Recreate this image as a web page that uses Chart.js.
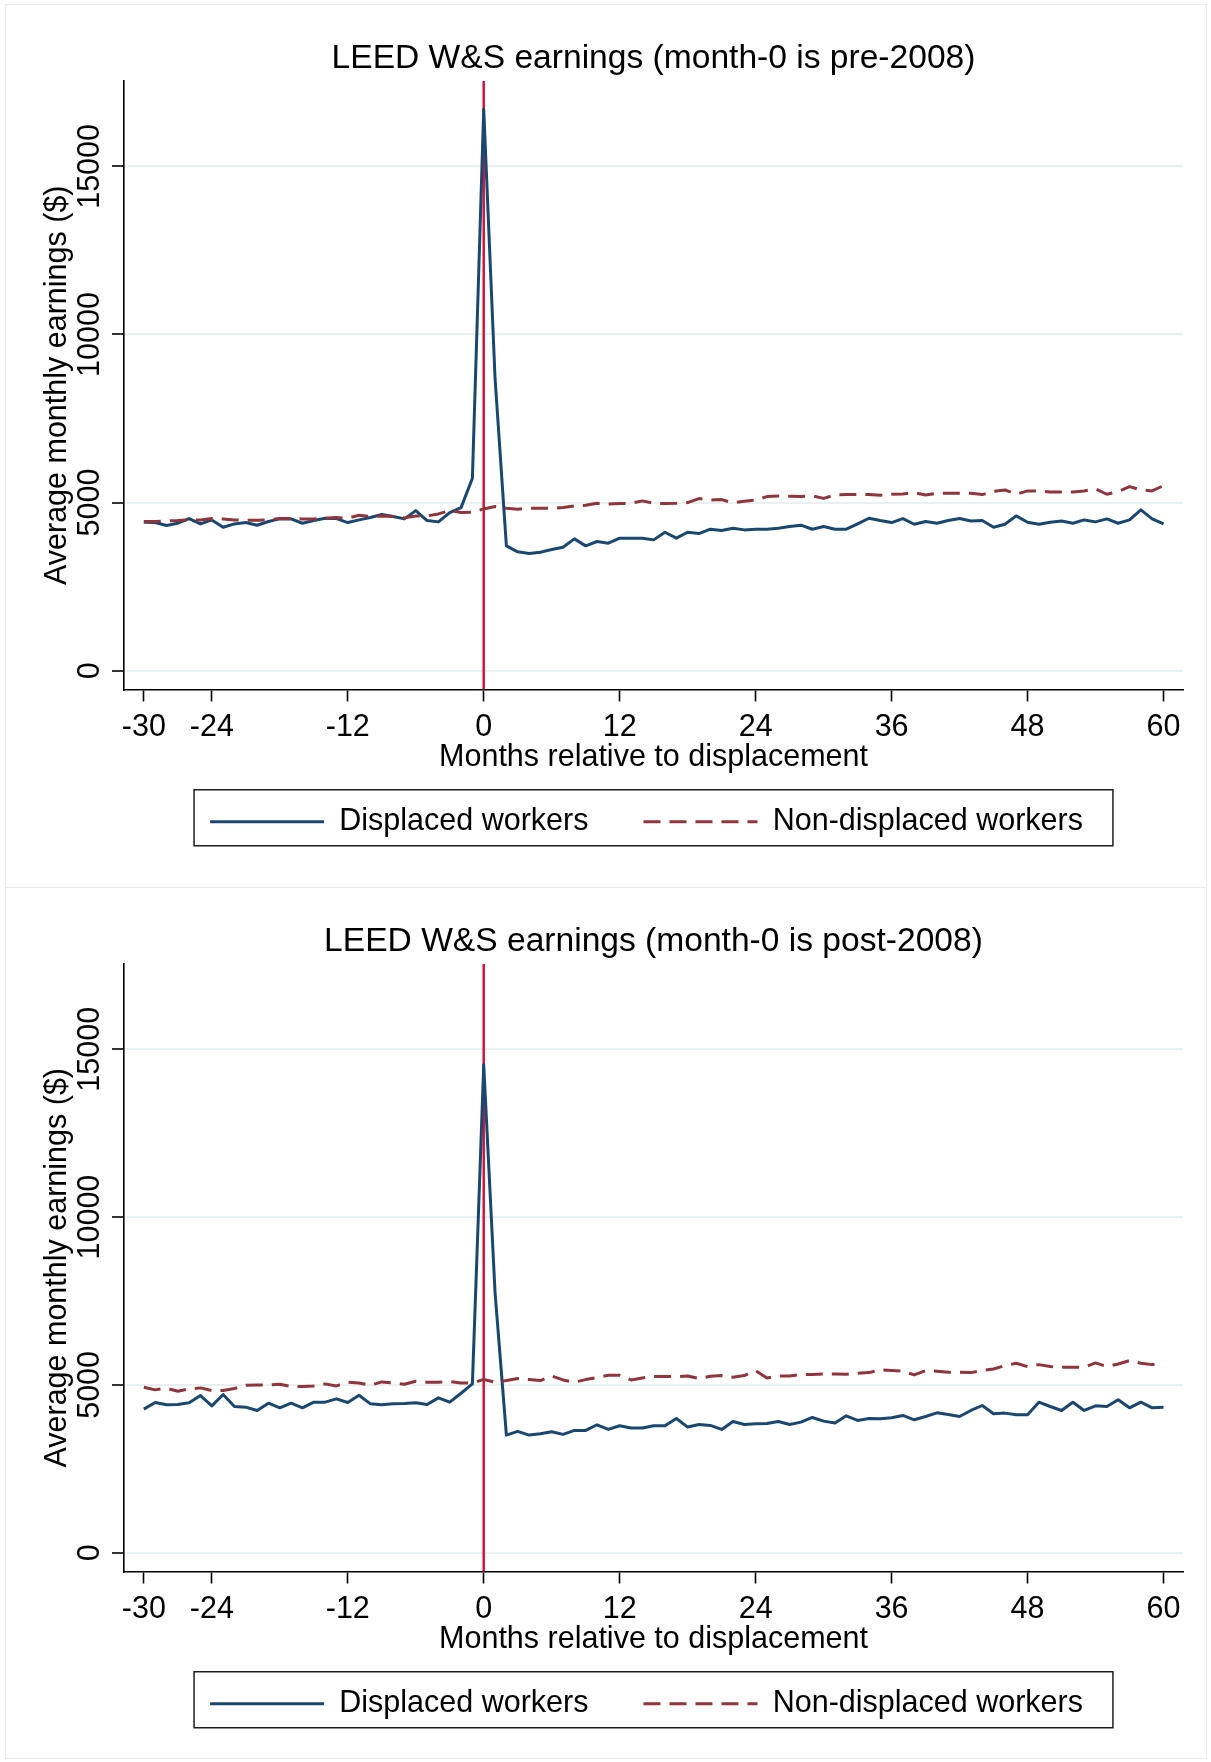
<!DOCTYPE html>
<html>
<head>
<meta charset="utf-8">
<script src="https://cdn.jsdelivr.net/npm/chart.js@4.4.1/dist/chart.umd.min.js"></script>
<style>
  html, body { margin: 0; padding: 0; background: #fff; }
  body { width: 1211px; height: 1762px; position: relative; overflow: hidden; }
  .panel { position: absolute; left: 0; width: 1211px; }
  .frame { position: absolute; border: 1px solid #e6ecee; pointer-events: none; }
  canvas { display: block; }
</style>
</head>
<body>
<div class="panel" style="top:0px;height:883px"><canvas id="c1" width="1211" height="883"></canvas></div>
<div class="panel" style="top:883px;height:879px"><canvas id="c2" width="1211" height="879"></canvas></div>
<div class="frame" style="left:5px;top:4px;width:1200px;height:882px"></div>
<div class="frame" style="left:5px;top:887px;width:1200px;height:870px"></div>
<script>
// ---- data ----
const months = [-30,-29,-28,-27,-26,-25,-24,-23,-22,-21,-20,-19,-18,-17,-16,-15,-14,-13,-12,-11,-10,-9,-8,-7,-6,-5,-4,-3,-2,-1,
  0,1,2,3,4,5,6,7,8,9,10,11,12,13,14,15,16,17,18,19,20,21,22,23,24,25,26,27,28,29,
  30,31,32,33,34,35,36,37,38,39,40,41,42,43,44,45,46,47,48,49,50,51,52,53,54,55,56,57,58,59,60];

const preDisplaced = [4416,4406,4317,4386,4525,4366,4485,4267,4366,4406,4327,4436,4515,4515,4386,4465,4535,4525,4406,4485,4555,4644,4584,4515,4762,4465,4426,4703,4851,5723,
  16700,8700,3713,3535,3485,3525,3604,3673,3921,3713,3842,3792,3941,3941,3941,3891,4119,3941,4119,4079,4208,4168,4238,4188,4208,4208,4238,4287,4327,4208,
  4287,4208,4208,4366,4535,4465,4406,4525,4356,4436,4386,4465,4525,4455,4465,4267,4356,4604,4416,4356,4416,4455,4386,4485,4426,4515,4386,4485,4782,4515,4366];

const preNonDisplaced = [4436,4440,4455,4465,4485,4485,4525,4515,4485,4475,4475,4485,4525,4525,4515,4515,4535,4555,4535,4624,4584,4604,4584,4545,4604,4604,4663,4762,4703,4713,
  4812,4881,4832,4802,4832,4832,4832,4851,4901,4921,4980,4960,4970,4980,5050,4980,4970,4980,5000,5119,5079,5089,4990,5040,5079,5178,5198,5188,5178,5198,
  5125,5230,5238,5238,5238,5218,5248,5257,5297,5228,5277,5277,5277,5277,5238,5337,5376,5248,5347,5347,5317,5317,5317,5347,5406,5248,5327,5475,5376,5347,5505];

const postDisplaced = [4277,4475,4406,4416,4465,4683,4376,4713,4356,4337,4238,4455,4317,4455,4317,4485,4485,4584,4475,4693,4436,4406,4436,4446,4465,4416,4614,4485,4752,5030,
  14540,7750,3505,3614,3505,3545,3604,3525,3644,3644,3812,3673,3782,3713,3713,3782,3782,4000,3743,3822,3792,3673,3911,3822,3842,3852,3911,3822,3891,4030,
  3921,3862,4079,3941,4000,3990,4020,4089,3960,4059,4168,4119,4059,4238,4386,4139,4159,4109,4109,4485,4356,4238,4485,4238,4376,4356,4555,4317,4485,4317,4337];

const postNonDisplaced = [4931,4852,4901,4812,4881,4911,4832,4832,4891,4990,5000,5000,5020,4950,4950,4970,5030,4970,5079,5059,4990,5089,5059,5020,5109,5079,5079,5099,5059,5050,
  5163,5079,5129,5188,5158,5129,5267,5148,5079,5158,5218,5287,5287,5148,5208,5247,5247,5247,5267,5188,5257,5277,5228,5277,5426,5208,5267,5267,5307,5307,
  5327,5327,5317,5347,5366,5446,5426,5406,5297,5426,5406,5376,5376,5366,5426,5475,5574,5644,5545,5604,5545,5525,5525,5525,5654,5545,5624,5723,5644,5604,5604];

const xTickValues = [-30, -24, -12, 0, 12, 24, 36, 48, 60];
const yTickValues = [0, 5000, 10000, 15000];
const seriesNames = ['Displaced workers', 'Non-displaced workers'];
const panelTitles = ['LEED W&S earnings (month-0 is pre-2008)', 'LEED W&S earnings (month-0 is post-2008)'];
const eventMonth = 0;

// ---- style ----
const FONT = '"Liberation Sans", Arial, Helvetica, sans-serif';
const NAVY = '#1a476f';
const MAROON = '#90353b';
const VLINE = '#d0143c';
Chart.defaults.font.family = FONT;
Chart.defaults.color = '#000';

const vlinePlugin = {
  id: 'vline',
  beforeDatasetsDraw(chart) {
    const {ctx, chartArea, scales} = chart;
    const x = scales.x.getPixelForValue(eventMonth);
    ctx.save();
    ctx.strokeStyle = VLINE;
    ctx.lineWidth = 2.5;
    ctx.beginPath();
    ctx.moveTo(x, chartArea.top);
    ctx.lineTo(x, chartArea.bottom);
    ctx.stroke();
    ctx.restore();
  }
};

const legendFramePlugin = {
  id: 'legendFrame',
  afterLayout(chart) {
    // Stata centres the legend box (not its contents) on the plot region
    const lg = chart.legend;
    if (lg) { lg.left -= 7; lg.right -= 7; }
  },
  afterDraw(chart) {
    const lg = chart.legend;
    if (!lg || !lg.legendHitBoxes || !lg.legendHitBoxes.length) return;
    const hb = lg.legendHitBoxes;
    const first = hb[0], last = hb[hb.length - 1];
    const left = first.left - 16;
    const right = last.left + last.width + 30;
    const cy = first.top + first.height / 2;
    const ctx = chart.ctx;
    ctx.save();
    ctx.strokeStyle = '#1e1e1e';
    ctx.lineWidth = 1.5;
    ctx.strokeRect(left, cy - 32, right - left, 56);
    ctx.restore();
  }
};

function makePanel(id, title, displaced, nonDisplaced, bottomPad) {
  return new Chart(document.getElementById(id), {
    type: 'line',
    data: {
      labels: months,
      datasets: [
        {
          label: seriesNames[0], data: displaced,
          borderColor: NAVY, backgroundColor: NAVY, borderWidth: 3,
          pointRadius: 0, tension: 0, borderJoinStyle: 'round', order: 1
        },
        {
          label: seriesNames[1], data: nonDisplaced,
          borderColor: MAROON, backgroundColor: MAROON, borderWidth: 3,
          borderDash: [17, 9], pointRadius: 0, tension: 0, borderJoinStyle: 'round', order: 0
        }
      ]
    },
    options: {
      responsive: false,
      devicePixelRatio: 1,
      animation: false,
      events: [],
      layout: { padding: { top: 0, bottom: bottomPad, left: 0, right: 28 } },
      scales: {
        x: {
          type: 'linear',
          min: -31.75, max: 61.72,
          afterBuildTicks(s) { s.ticks = xTickValues.map(v => ({ value: v })); },
          afterFit(s) { s.height = 62; },
          ticks: {
            autoSkip: false, minRotation: 0, maxRotation: 0, padding: 7.9,
            font: { size: 30.5 }, color: '#000',
            callback: v => String(v)
          },
          grid: { drawOnChartArea: false, drawTicks: true, tickLength: 12, tickWidth: 1.6, tickColor: '#000' },
          border: { display: true, color: '#000', width: 1.6 },
          title: {
            display: true, text: 'Months relative to displacement',
            font: { size: 30.5 }, color: '#000', padding: { top: 0, bottom: -24.5 }
          }
        },
        y: {
          type: 'linear',
          min: -560, max: 17540,
          afterBuildTicks(s) { s.ticks = yTickValues.map(v => ({ value: v })); },
          afterFit(s) { s.width = 124; },
          ticks: {
            minRotation: 90, maxRotation: 90, crossAlign: 'center', padding: -21,
            font: { size: 30.5 }, color: '#000',
            callback: v => String(v)
          },
          grid: { color: '#e8f0f2', lineWidth: 2, drawTicks: true, tickLength: 12, tickWidth: 1.6, tickColor: '#000' },
          border: { display: true, color: '#000', width: 1.6 },
          title: {
            display: true, text: 'Average monthly earnings ($)',
            font: { size: 30.5 }, color: '#000', padding: { top: 39, bottom: 0 }
          }
        }
      },
      plugins: {
        tooltip: { enabled: false },
        title: {
          display: true, text: title, fullSize: false,
          font: { size: 33.6, weight: 'normal' }, color: '#000',
          padding: { top: 38.1, bottom: 2.6 }
        },
        legend: {
          display: true, position: 'bottom', fullSize: false,
          labels: {
            usePointStyle: true, pointStyleWidth: 114,
            padding: 55, color: '#000', font: { size: 30.5 },
            generateLabels(chart) {
              const items = Chart.defaults.plugins.legend.labels.generateLabels(chart);
              items.forEach(it => {
                const ds = chart.data.datasets[it.datasetIndex];
                it.pointStyle = 'line';
                it.lineDash = ds.borderDash || [];
                it.lineWidth = ds.borderWidth;
                it.strokeStyle = ds.borderColor;
                it.fillStyle = ds.borderColor;
                it.fontColor = '#000';
              });
              return items;
            },
            sort: (a, b) => a.datasetIndex - b.datasetIndex
          }
        }
      }
    },
    plugins: [vlinePlugin, legendFramePlugin]
  });
}

makePanel('c1', panelTitles[0], preDisplaced, preNonDisplaced, 36);
makePanel('c2', panelTitles[1], postDisplaced, postNonDisplaced, 33);
</script>
</body>
</html>
